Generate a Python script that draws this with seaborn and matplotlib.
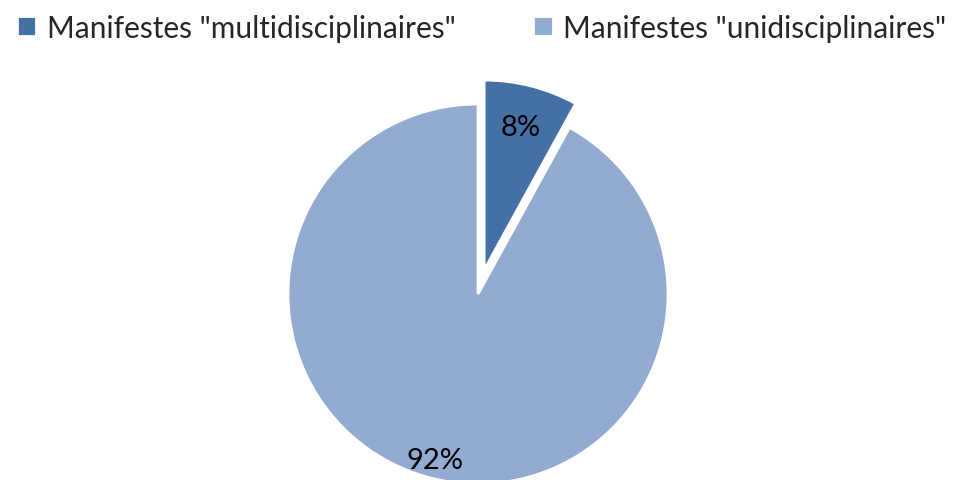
import numpy as np
import pandas as pd
import seaborn as sns
import matplotlib.pyplot as plt

sns.set_theme(style="white")
plt.rcParams['font.family'] = ['Lato', 'DejaVu Sans']

labels = ['Manifestes "multidisciplinaires"', 'Manifestes "unidisciplinaires"']
values = [8, 92]
colors = ["#4470a6", "#93aad1"]
explode = [0.13, 0]

fig = plt.figure(figsize=(9.63, 4.81), dpi=100)
ax = fig.add_axes([0, 0, 1, 1])

wedges, texts, autotexts = ax.pie(values, colors=colors, explode=explode,
                                  startangle=90, counterclock=False,
                                  autopct="%.0f%%", pctdistance=0.85,
                                  wedgeprops=dict(edgecolor="white", linewidth=2),
                                  textprops=dict(fontsize=21, color="black"))

# per-label distance from centre
for t, d in zip(autotexts, [0.78 / 0.85, 0.9 / 0.85]):
    x, y = t.get_position()
    w = wedges[autotexts.index(t)]
    cx, cy = w.center
    t.set_position((cx + (x - cx) * d, cy + (y - cy) * d))

ax.set_xlim(-478 / 190, (963 - 478) / 190)
ax.set_ylim(-186 / 190, 295 / 190)
ax.set_aspect("auto")
ax.axis("off")

ax.legend(wedges, labels, loc="upper center", bbox_to_anchor=(0.5, 1.025), ncol=2,
          frameon=False, fontsize=21.5, handlelength=0.65, handleheight=0.65,
          handletextpad=0.35, columnspacing=2.6)

fig.savefig("out.png", dpi=100)
